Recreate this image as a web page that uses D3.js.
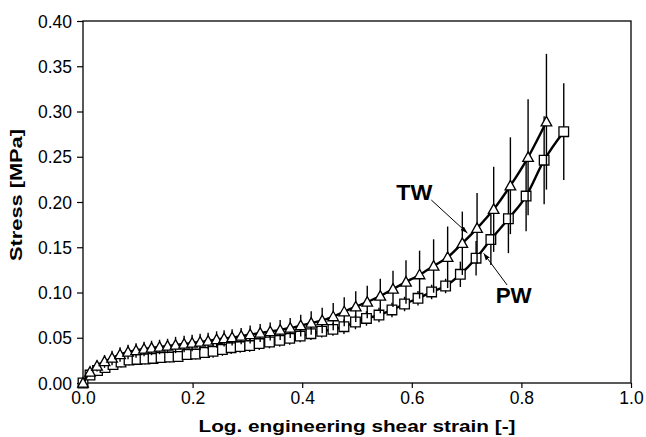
<!DOCTYPE html>
<html><head><meta charset="utf-8">
<script src="https://cdn.jsdelivr.net/npm/d3@7"></script>
<style>
html,body{margin:0;padding:0;background:#fff;}
svg{display:block;font-family:"Liberation Sans",Arial,Helvetica,sans-serif;}
</style></head>
<body><svg id="chart" width="646" height="437"></svg>
<script>
// ---- data ----
const twStrain = [0,0.0128,0.0256,0.0393,0.0530,0.0676,0.0822,0.0968,0.1114,0.1251,0.1397,0.1543,0.1689,0.1845,0.1991,0.2137,0.2283,0.2438,0.2575,0.2721,0.2886,0.3050,0.3233,0.3416,0.3598,0.3781,0.3973,0.4164,0.4365,0.4566,0.4767,0.4977,0.5187,0.5425,0.5657,0.5894,0.6142,0.6398,0.6654,0.6922,0.7191,0.7494,0.7799,0.8122,0.8457];
const twStress = [0,0.0122,0.0188,0.0238,0.0276,0.0315,0.0343,0.0359,0.0376,0.0387,0.0398,0.0409,0.0420,0.0431,0.0442,0.0453,0.0464,0.0481,0.0492,0.0503,0.0519,0.0536,0.0552,0.0569,0.0586,0.0608,0.0635,0.0663,0.0691,0.0733,0.0788,0.0843,0.0895,0.0961,0.1039,0.1116,0.1197,0.1293,0.1389,0.1544,0.1709,0.1919,0.2180,0.2494,0.2887];
const twErr = [0,0.005,0.006,0.007,0.008,0.008,0.008,0.008,0.008,0.008,0.008,0.008,0.009,0.009,0.009,0.009,0.009,0.009,0.009,0.009,0.009,0.010,0.010,0.010,0.011,0.011,0.012,0.013,0.014,0.015,0.016,0.017,0.018,0.019,0.020,0.024,0.0265,0.0295,0.034,0.035,0.039,0.047,0.0535,0.064,0.075];

const pwStrain = [0,0.0128,0.0265,0.0402,0.0548,0.0694,0.0840,0.0986,0.1132,0.1279,0.1425,0.1580,0.1735,0.1900,0.2055,0.2219,0.2374,0.2544,0.2703,0.2868,0.3041,0.3215,0.3403,0.3589,0.3772,0.3963,0.4159,0.4356,0.4561,0.4762,0.4972,0.5173,0.5401,0.5638,0.5868,0.6113,0.6362,0.6617,0.6886,0.7173,0.7443,0.7763,0.8086,0.8415,0.8773];
const pwStress = [0,0.0088,0.0138,0.0171,0.0204,0.0232,0.0254,0.0260,0.0265,0.0271,0.0282,0.0287,0.0293,0.0315,0.0320,0.0337,0.0350,0.0370,0.0390,0.0403,0.0414,0.0436,0.0453,0.0472,0.0494,0.0519,0.0545,0.0572,0.0593,0.0622,0.0674,0.0713,0.0751,0.0807,0.0873,0.0936,0.1006,0.1072,0.1201,0.1379,0.1585,0.1815,0.2066,0.2462,0.2777];
const pwErr = [0,0.005,0.005,0.005,0.006,0.006,0.006,0.006,0.006,0.006,0.006,0.006,0.006,0.006,0.006,0.006,0.007,0.007,0.007,0.007,0.007,0.007,0.007,0.007,0.007,0.007,0.007,0.007,0.007,0.008,0.008,0.008,0.008,0.008,0.008,0.008,0.008,0.008,0.014,0.019,0.028,0.038,0.039,0.0486,0.0535];

const xTicks = [0,0.2,0.4,0.6,0.8,1.0];
const yTicks = [0,0.05,0.10,0.15,0.20,0.25,0.30,0.35,0.40];
const xTitle = "Log. engineering shear strain [-]";
const yTitle = "Stress [MPa]";
// annotations in data units
const annLabels = ["TW","PW"];
const annText = [[0.6046,0.2022],[0.786,0.0881]];
const annArrow = [[0.6356,0.2022,0.7014,0.1657],[0.7739,0.1083,0.7311,0.1433]];

// ---- layout ----
const L = 83, R = 631, T = 21, B = 383;
const x = d3.scaleLinear().domain([0,1]).range([L,R]);
const y = d3.scaleLinear().domain([0,0.4]).range([B,T]);
const svg = d3.select("#chart");

svg.append("defs").append("marker")
  .attr("id","arr").attr("viewBox","0 0 10 10").attr("refX",10).attr("refY",5)
  .attr("markerWidth",7).attr("markerHeight",7).attr("markerUnits","userSpaceOnUse")
  .attr("orient","auto")
  .append("path").attr("d","M0,1.5L10,5L0,8.5Z").attr("fill","#000");

// axes
const xAxis = d3.axisBottom(x).tickValues(xTicks).tickFormat(d3.format(".1f")).tickSize(5).tickSizeOuter(0);
const yAxis = d3.axisLeft(y).tickValues(yTicks).tickFormat(d3.format(".2f")).tickSize(6).tickSizeOuter(0);
const gx = svg.append("g").attr("transform",`translate(0,${B})`).call(xAxis);
const gy = svg.append("g").attr("transform",`translate(${L},0)`).call(yAxis);
[gx,gy].forEach(g=>{
  g.select(".domain").remove();
  g.selectAll(".tick line").attr("stroke","#000").attr("stroke-width",1.2);
  g.selectAll(".tick text").attr("fill","#000").attr("font-size",17.5)
    .attr("font-family","'Liberation Sans',Arial,sans-serif");
});
gx.selectAll(".tick text").attr("dy","0.71em").attr("y",9);
gy.selectAll(".tick text").attr("x",-11).attr("dy","0.35em");

// frame
svg.append("rect").attr("x",L).attr("y",T).attr("width",R-L).attr("height",B-T)
  .attr("fill","none").attr("stroke","#000").attr("stroke-width",1.3);

// titles
svg.append("text").attr("x",(L+R)/2).attr("y",432).attr("text-anchor","middle")
  .attr("font-weight","bold").attr("font-size",17)
  .attr("textLength",317).attr("lengthAdjust","spacingAndGlyphs").text(xTitle);
svg.append("text").attr("transform","translate(22,195) rotate(-90)").attr("text-anchor","middle")
  .attr("font-weight","bold").attr("font-size",17)
  .attr("textLength",132).attr("lengthAdjust","spacingAndGlyphs").text(yTitle);

function series(sx, sy, se, shape){
  const pts = sx.map((d,i)=>({x:d,y:sy[i],e:se[i]}));
  const g = svg.append("g");
  g.selectAll("line.err").data(pts.filter(p=>p.e>0)).join("line")
    .attr("x1",d=>x(d.x)).attr("x2",d=>x(d.x))
    .attr("y1",d=>y(d.y+d.e)).attr("y2",d=>y(d.y-d.e))
    .attr("stroke","#000").attr("stroke-width",1.4);
  g.append("path").datum(pts)
    .attr("d",d3.line().x(d=>x(d.x)).y(d=>y(d.y)).curve(d3.curveMonotoneX))
    .attr("fill","none").attr("stroke","#000").attr("stroke-width",2.4);
  const path = shape==="tri" ? "M0,-5.4L5.3,4.1L-5.3,4.1Z" : "M-4.8,-4.8H4.8V4.8H-4.8Z";
  g.selectAll("path.m").data(pts).join("path").attr("class","m")
    .attr("transform",d=>`translate(${x(d.x)},${y(d.y)})`)
    .attr("d",path).attr("fill","#fff").attr("stroke","#000").attr("stroke-width",1.3);
}
series(pwStrain,pwStress,pwErr,"sq");
series(twStrain,twStress,twErr,"tri");

// annotations
annLabels.forEach((lab,i)=>{
  svg.append("text").attr("x",x(annText[i][0])).attr("y",y(annText[i][1]))
    .attr("text-anchor","middle").attr("font-weight","bold").attr("font-size",22)
    .attr("textLength",36).attr("lengthAdjust","spacingAndGlyphs").text(lab);
  const a = annArrow[i];
  svg.append("line").attr("x1",x(a[0])).attr("y1",y(a[1])).attr("x2",x(a[2])).attr("y2",y(a[3]))
    .attr("stroke","#000").attr("stroke-width",1).attr("marker-end","url(#arr)");
});
</script></body></html>
